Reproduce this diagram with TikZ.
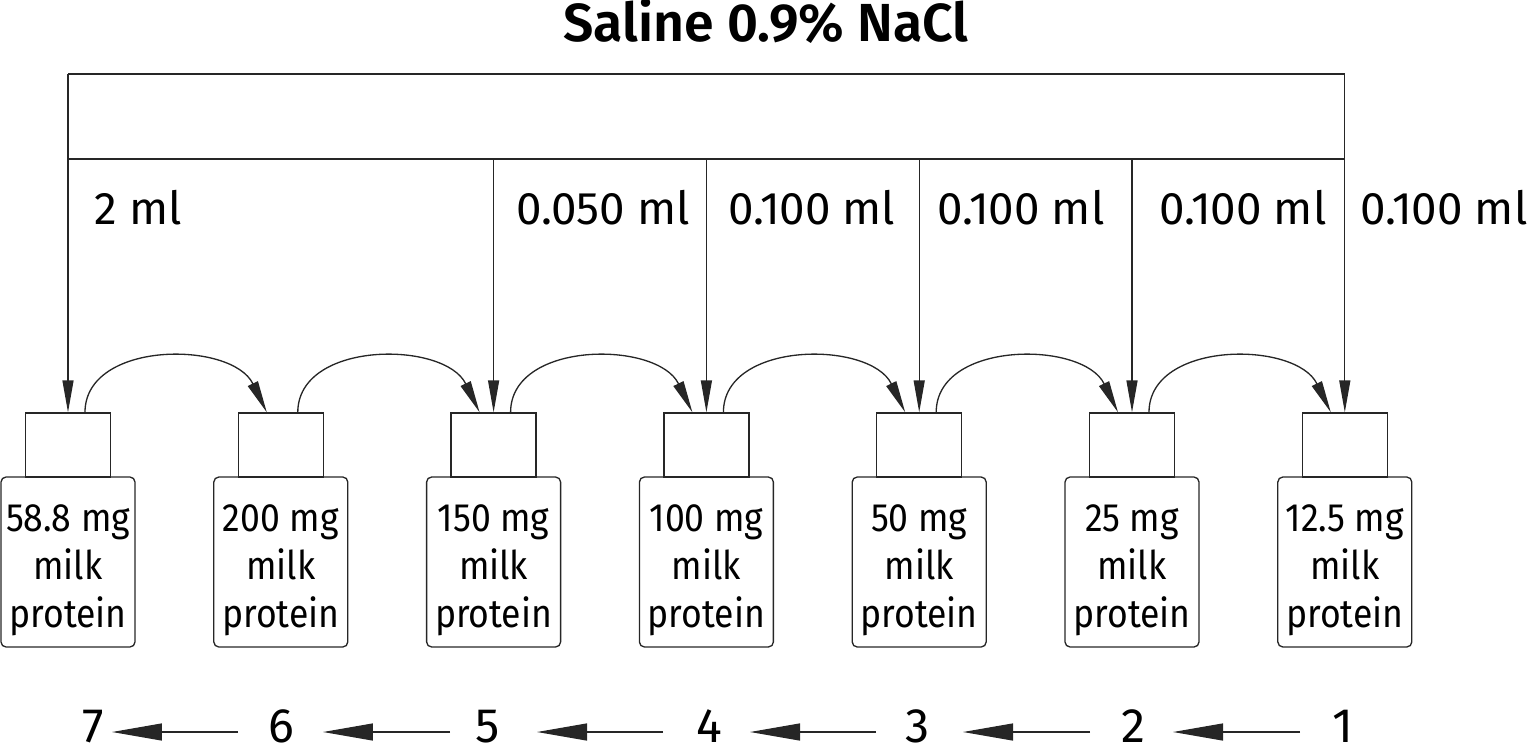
\documentclass[tikz,border=0pt]{standalone}
\usepackage{fontspec}
\setmainfont{Fira Sans}
\newfontfamily\narrowfont[FakeStretch=0.9]{Fira Sans}
\newfontfamily\titlefont{Fira Sans SemiBold}
\usetikzlibrary{arrows.meta}
\begin{document}
\begin{tikzpicture}[x=0.02cm,y=-0.02cm,
  ln/.style={line width=0.75pt, draw=black!85},
  captop/.style={ln, draw, minimum width=1.7cm, minimum height=1.28cm, inner sep=0pt},
  body/.style={ln, draw, rounded corners=0.1cm, minimum width=2.68cm, minimum height=3.4cm, inner sep=0pt},
  btxt/.style={anchor=base, inner sep=0pt, font=\narrowfont\fontsize{22.5}{26}\selectfont},
  mltxt/.style={anchor=base, inner sep=0pt, font=\fontsize{26}{30}\selectfont},
  numtxt/.style={anchor=base, inner sep=0pt, font=\fontsize{27.5}{32}\selectfont},
  smalltip/.style={-{Triangle[length=0.64cm,width=0.22cm]}},
  bigtip/.style={-{Triangle[length=1.0cm,width=0.34cm]}},
]
\useasboundingbox (0,0) rectangle (1530,750);
% title
\node[anchor=base, inner sep=0pt, font=\titlefont\fontsize{30.5}{34}\selectfont] (title) at (766,42) {Saline 0.9\% NaCl};
% bottles
\foreach \i/\c/\t in {1/68/58.8 mg,2/280.8/200 mg,3/493.6/150 mg,4/706.4/100 mg,5/919.2/50 mg,6/1132/25 mg,7/1344.8/12.5 mg}{
  \node[captop] (cap\i) at (\c,445) {};
  \node[body] (b\i) at (\c,562) {};
  \node[btxt] (ta\i) at (\c,531) {\t};
  \node[btxt] (tb\i) at (\c,579) {milk};
  \node[btxt] (tc\i) at (\c,627) {protein};
}
% saline distribution frame
\coordinate (tl) at (68,74);
\coordinate (tr) at (1344.8,74);
\coordinate (ml) at (68,159);
\coordinate (mr) at (1344.8,159);
\draw[ln] (tl) -- (tr);
\draw[ln] (ml) -- (mr);
\draw[ln,smalltip] (tl) -- (cap1.north);
\draw[ln,smalltip] (tr) -- (cap7.north);
\foreach \i in {3,4,5,6}{
  \draw[ln,smalltip] (cap\i.north |- ml) -- (cap\i.north);
}
% volume labels
\node[mltxt] (v1) at (138,224) {2 ml};
\node[mltxt] (v3) at (603,224) {0.050 ml};
\node[mltxt] (v4) at (812,224) {0.100 ml};
\node[mltxt] (v5) at (1021,224) {0.100 ml};
\node[mltxt] (v6) at (1243,224) {0.100 ml};
\node[mltxt] (v7) at (1444,224) {0.100 ml};
% transfer arcs
\foreach \i/\j in {1/2,2/3,3/4,4/5,5/6,6/7}{
  \draw[ln,smalltip] ([xshift=0.34cm]cap\i.north) .. controls +(0,-72) and +(-35,-72) .. ([xshift=-0.28cm]cap\j.north);
}
% order numbers
\foreach \k/\x in {7/93,6/281,5/488,4/709,3/918,2/1133,1/1343}{
  \node[numtxt] (n\k) at (\x,742) {\k};
}
\foreach \h/\t/\hx/\tx in {7/6/112/238,6/5/323/450,5/4/537/663,4/3/750/876,3/2/963/1090,2/1/1173/1300}{
  \coordinate (h\h) at (\hx,732);
  \coordinate (e\t) at (\tx,732);
  \draw[ln,bigtip] (e\t) -- (h\h);
}
\end{tikzpicture}
\end{document}
